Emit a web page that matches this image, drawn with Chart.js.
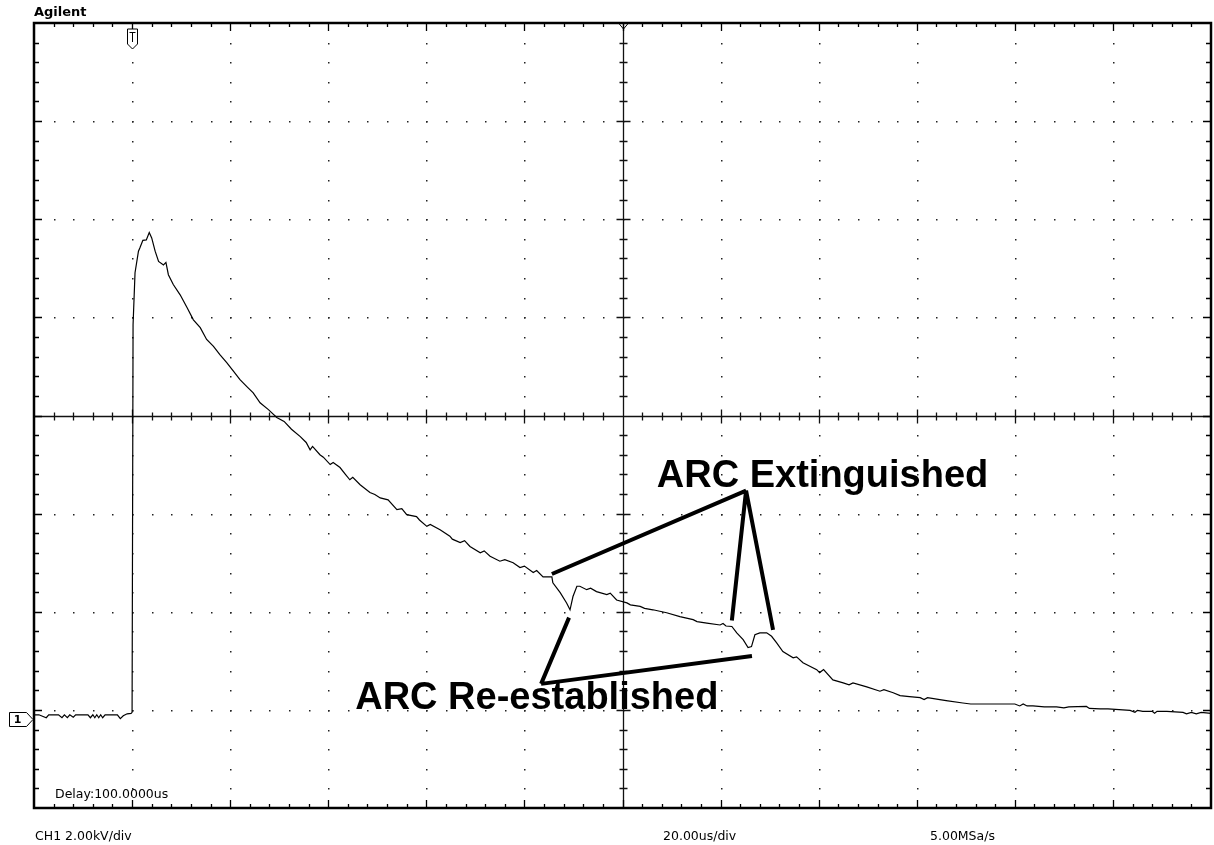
<!DOCTYPE html>
<html>
<head>
<meta charset="utf-8">
<title>Agilent - arc trace</title>
<script src="https://cdn.jsdelivr.net/npm/chart.js@4.4.0/dist/chart.umd.min.js"></script>
<style>
  html, body { margin: 0; padding: 0; background: #fff; }
  #wrap { width: 1214px; height: 845px; }
</style>
</head>
<body>
<div id="wrap"><canvas id="scope" width="1214" height="845"></canvas></div>
<script>
// Channel 1 trace, time in us (trigger at 0), voltage in kV above ground
const timeUs = [
    -20, -19, -17.5, -17, -15, -14.3, -13.8, -13.2, -12.7, -12, -11.5, -9, -8.5, -8, -7.6, -7.2, -6.8, -6.4, -6, -5.5,
    -3, -2.4, -1.8, -1, -0.2, 0, 0.2, 0.6, 1.3, 1.6, 2.2, 2.9, 3.5, 4.0, 4.7, 5.4, 6.4, 6.9, 7.4, 8.4,
    9.8, 11.2, 12.5, 13.9, 15.2, 16.6, 17.9, 19.3, 20.7, 22.0, 23.4, 24.7, 26.1, 27.8, 29.5, 31.0, 32.5, 34.3, 35.5, 36.3,
    36.8, 38.3, 39.0, 40.4, 41.0, 42.4, 43.5, 44.4, 45.0, 46.5, 48.5, 49.5, 50.6, 52.2, 54.0, 55.0, 56.0, 58.0, 58.6, 60.1,
    60.8, 62.8, 64.8, 65.3, 66.9, 67.8, 68.9, 71.0, 71.8, 73.0, 75.0, 76.0, 77.7, 79.1, 80.0, 81.8, 82.5, 83.8, 85.6, 85.8,
    87.3, 88.6, 89.3, 89.9, 90.7, 91.3, 92.7, 93.5, 94.7, 96.8, 97.5, 98.8, 100.9, 101.6, 103.6, 104.5, 106.2, 109.0, 111.7, 114.4,
    115.2, 117.2, 119.9, 120.5, 121.1, 122.3, 123.3, 124.6, 125.6, 126.3, 127.0, 128.0, 129.4, 130.4, 131.4, 132.7, 134.8, 135.5, 136.8, 139.6,
    140.2, 141.0, 142.9, 145.0, 146.2, 147.0, 149.8, 152.5, 153.3, 155.2, 156.6, 158.5, 160.7, 161.5, 162.2, 164.7, 166.0, 169.4, 171.0, 177.0,
    180.0, 181.0, 181.7, 182.5, 183.7, 186.0, 188.5, 190.0, 191.0, 194.6, 195.2, 197.4, 199.0, 203.5, 204.5, 205.0, 206.1, 208.0, 208.5, 209.0,
    211.0, 214.3, 215.0, 216.0, 217.0, 218.0, 220.0
];
const voltageKv = [
    0.00, 0.00, -0.06, 0.00, 0.00, -0.06, 0.00, -0.06, 0.00, -0.05, 0.00, 0.00, -0.06, 0.00, -0.06, 0.00, -0.06, 0.00, -0.06, 0.00,
    0.00, -0.08, -0.02, 0.02, 0.03, 0.05, 7.95, 9.01, 9.45, 9.52, 9.67, 9.68, 9.83, 9.72, 9.45, 9.24, 9.17, 9.22, 8.97, 8.77,
    8.56, 8.30, 8.05, 7.89, 7.65, 7.51, 7.34, 7.18, 7.00, 6.83, 6.69, 6.56, 6.36, 6.22, 6.06, 5.98, 5.82, 5.67, 5.55, 5.40,
    5.47, 5.30, 5.25, 5.10, 5.14, 5.04, 4.90, 4.79, 4.84, 4.69, 4.53, 4.49, 4.42, 4.38, 4.18, 4.20, 4.08, 4.04, 3.97, 3.84,
    3.88, 3.77, 3.64, 3.58, 3.51, 3.55, 3.43, 3.30, 3.34, 3.23, 3.13, 3.16, 3.10, 3.00, 3.03, 2.90, 2.94, 2.81, 2.81, 2.69,
    2.49, 2.28, 2.14, 2.41, 2.62, 2.62, 2.55, 2.58, 2.51, 2.45, 2.48, 2.34, 2.28, 2.24, 2.21, 2.17, 2.14, 2.08, 2.00, 1.94,
    1.90, 1.87, 1.83, 1.86, 1.81, 1.80, 1.67, 1.53, 1.37, 1.39, 1.63, 1.67, 1.67, 1.60, 1.47, 1.29, 1.16, 1.18, 1.06, 0.92,
    0.86, 0.92, 0.71, 0.65, 0.61, 0.65, 0.57, 0.48, 0.51, 0.45, 0.39, 0.37, 0.35, 0.31, 0.35, 0.31, 0.29, 0.24, 0.22, 0.22,
    0.22, 0.18, 0.22, 0.18, 0.18, 0.16, 0.16, 0.14, 0.16, 0.17, 0.13, 0.12, 0.12, 0.09, 0.05, 0.09, 0.07, 0.07, 0.03, 0.07,
    0.07, 0.05, 0.02, 0.05, 0.02, 0.05, 0.03
];

// graticule: 12 x 20us, 8 x 2kV, centre at 100us / 6.1kV
const xTicks = [-20, 0, 20, 40, 60, 80, 100, 120, 140, 160, 180, 200, 220];
const yTicks = [-1.9, 0.1, 2.1, 4.1, 6.1, 8.1, 10.1, 12.1, 14.1];
const xMinor = 4;
const yMinor = 0.4;

// callouts (data coordinates): apex, then the points the lines run to
const extinguishedApex = [125.2, 4.57];
const extinguishedEnds = [[85.6, 2.87], [122.3, 1.92], [130.7, 1.73]];
const reestablishedApex = [83.4, 0.63];
const reestablishedEnds = [[89.1, 1.98], [126.4, 1.20]];

const smallFont = "12.5px 'DejaVu Sans', sans-serif";

const graticule = {
    id: "graticule",
    beforeDatasetsDraw(chart) {
        const { ctx, scales: { x, y } } = chart;
        const cx = xTicks[6], cy = yTicks[4];
        ctx.save();
        ctx.fillStyle = "#222";
        // dotted major lines
        xTicks.forEach((tx, i) => {
            if (i === 0 || i === xTicks.length - 1 || tx === cx) return;
            const px = Math.round(x.getPixelForValue(tx));
            for (let k = 1; k < 40; k++) {
                const py = Math.round(y.getPixelForValue(yTicks[0] + k * yMinor));
                ctx.fillRect(px, py, 1.5, 1.5);
            }
        });
        yTicks.forEach((ty, i) => {
            if (i === 0 || i === yTicks.length - 1 || ty === cy) return;
            const py = Math.round(y.getPixelForValue(ty));
            for (let k = 1; k < 60; k++) {
                const px = Math.round(x.getPixelForValue(xTicks[0] + k * xMinor));
                ctx.fillRect(px, py, 1.5, 1.5);
            }
        });
        // centre cross with ticks
        const pcx = Math.round(x.getPixelForValue(cx)) + 0.5;
        const pcy = Math.round(y.getPixelForValue(cy)) + 0.5;
        ctx.strokeStyle = "#111";
        ctx.lineWidth = 1.3;
        ctx.beginPath();
        ctx.moveTo(pcx, y.getPixelForValue(yTicks[8]));
        ctx.lineTo(pcx, y.getPixelForValue(yTicks[0]));
        ctx.moveTo(x.getPixelForValue(xTicks[0]), pcy);
        ctx.lineTo(x.getPixelForValue(xTicks[12]), pcy);
        for (let k = 1; k < 60; k++) {
            const px = Math.round(x.getPixelForValue(xTicks[0] + k * xMinor)) + 0.5;
            const len = k % 5 === 0 ? 7 : 4;
            ctx.moveTo(px, pcy - len);
            ctx.lineTo(px, pcy + len);
        }
        for (let k = 1; k < 40; k++) {
            const py = Math.round(y.getPixelForValue(yTicks[0] + k * yMinor)) + 0.5;
            const len = k % 5 === 0 ? 7 : 4;
            ctx.moveTo(pcx - len, py);
            ctx.lineTo(pcx + len, py);
        }
        ctx.stroke();
        ctx.restore();
    },
    afterDatasetsDraw(chart) {
        const { ctx, chartArea: a, scales: { x, y } } = chart;
        ctx.save();
        // frame and inward ticks
        ctx.strokeStyle = "#000";
        ctx.lineWidth = 2.5;
        ctx.strokeRect(a.left, a.top, a.right - a.left, a.bottom - a.top);
        ctx.lineWidth = 1.3;
        ctx.beginPath();
        for (let k = 1; k < 60; k++) {
            const px = Math.round(x.getPixelForValue(xTicks[0] + k * xMinor)) + 0.5;
            const len = k % 5 === 0 ? 8 : 4;
            ctx.moveTo(px, a.top);
            ctx.lineTo(px, a.top + len);
            ctx.moveTo(px, a.bottom);
            ctx.lineTo(px, a.bottom - len);
        }
        for (let k = 1; k < 40; k++) {
            const py = Math.round(y.getPixelForValue(yTicks[0] + k * yMinor)) + 0.5;
            const len = k % 5 === 0 ? 8 : 5;
            ctx.moveTo(a.left, py);
            ctx.lineTo(a.left + len, py);
            ctx.moveTo(a.right, py);
            ctx.lineTo(a.right - len, py);
        }
        ctx.stroke();

        // trigger marker at t = 0
        const tx = Math.round(x.getPixelForValue(0)) + 0.5;
        ctx.lineWidth = 1;
        ctx.fillStyle = "#fff";
        ctx.beginPath();
        ctx.moveTo(tx - 5, a.top + 6);
        ctx.lineTo(tx + 5, a.top + 6);
        ctx.lineTo(tx + 5, a.top + 21);
        ctx.lineTo(tx, a.top + 26);
        ctx.lineTo(tx - 5, a.top + 21);
        ctx.closePath();
        ctx.fill();
        ctx.stroke();
        ctx.beginPath();
        ctx.moveTo(tx - 3, a.top + 9.5);
        ctx.lineTo(tx + 3, a.top + 9.5);
        ctx.moveTo(tx, a.top + 9.5);
        ctx.lineTo(tx, a.top + 19);
        ctx.stroke();

        // delay reference at top centre
        const mx = Math.round(x.getPixelForValue(xTicks[6])) + 0.5;
        ctx.beginPath();
        ctx.moveTo(mx - 5, a.top);
        ctx.lineTo(mx + 5, a.top);
        ctx.lineTo(mx, a.top + 6);
        ctx.closePath();
        ctx.stroke();

        // channel 1 ground marker
        const gy = Math.round(y.getPixelForValue(0)) + 4.5;
        ctx.beginPath();
        ctx.moveTo(9.5, gy - 7);
        ctx.lineTo(26.5, gy - 7);
        ctx.lineTo(33, gy);
        ctx.lineTo(26.5, gy + 7);
        ctx.lineTo(9.5, gy + 7);
        ctx.closePath();
        ctx.fill();
        ctx.stroke();
        ctx.fillStyle = "#000";
        ctx.font = "bold 11px 'DejaVu Sans', sans-serif";
        ctx.textAlign = "center";
        ctx.textBaseline = "middle";
        ctx.fillText("1", 17.5, gy + 0.5);

        // callout lines
        ctx.lineWidth = 4;
        ctx.lineCap = "butt";
        ctx.beginPath();
        [[extinguishedApex, extinguishedEnds], [reestablishedApex, reestablishedEnds]].forEach(([apex, ends]) => {
            const ax = x.getPixelForValue(apex[0]);
            const ay = y.getPixelForValue(apex[1]);
            ends.forEach((e) => {
                ctx.moveTo(ax, ay);
                ctx.lineTo(x.getPixelForValue(e[0]), y.getPixelForValue(e[1]));
            });
        });
        ctx.stroke();

        ctx.font = "bold 38px 'Liberation Sans', Arial, sans-serif";
        ctx.textAlign = "left";
        ctx.textBaseline = "alphabetic";
        ctx.fillText("ARC Extinguished", x.getPixelForValue(107.0), y.getPixelForValue(4.65));
        ctx.fillText("ARC Re-established", x.getPixelForValue(45.5), y.getPixelForValue(0.12));
        ctx.restore();
    },
    afterDraw(chart) {
        const { ctx, chartArea: a } = chart;
        ctx.save();
        ctx.fillStyle = "#000";
        ctx.textAlign = "left";
        ctx.textBaseline = "alphabetic";
        ctx.font = "bold 13px 'DejaVu Sans', sans-serif";
        ctx.fillText("Agilent", 34, 16);
        ctx.font = smallFont;
        ctx.fillText("Delay:100.0000us", 55, a.bottom - 10);
        ctx.fillText("CH1 2.00kV/div", 35, 840);
        ctx.fillText("20.00us/div", 663, 840);
        ctx.fillText("5.00MSa/s", 930, 840);
        ctx.restore();
    }
};

const scopeChart = new Chart(document.getElementById("scope"), {
    type: "line",
    data: {
        datasets: [{
            label: "CH1",
            data: timeUs.map((t, i) => ({ x: t, y: voltageKv[i] })),
            borderColor: "#000",
            borderWidth: 1.2,
            pointRadius: 0,
            fill: false,
            tension: 0,
        }],
    },
    options: {
        responsive: false,
        animation: false,
        layout: {
            padding: { left: 34, top: 23, right: 3, bottom: 37 },
        },
        plugins: {
            legend: { display: false },
            tooltip: { enabled: false },
        },
        scales: {
            x: {
                type: "linear",
                min: xTicks[0],
                max: xTicks[xTicks.length - 1],
                display: false,
            },
            y: {
                type: "linear",
                min: yTicks[0],
                max: yTicks[yTicks.length - 1],
                display: false,
            },
        },
    },
    plugins: [graticule],
});
</script>
</body>
</html>
